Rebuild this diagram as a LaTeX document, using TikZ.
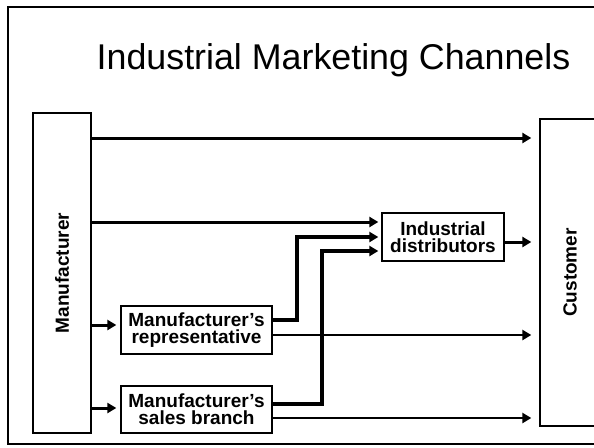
\documentclass[tikz,border=0pt]{standalone}
\usepackage{fontspec}
\setmainfont{Liberation Sans}
\usetikzlibrary{arrows.meta}
\begin{document}
\begin{tikzpicture}[x=1pt,y=-1pt,
  box/.style={draw, line width=1.3pt, inner sep=0pt},
  lbl/.style={font=\bfseries\fontsize{19}{17}\selectfont, align=center, inner sep=0pt},
  tip/.style={-{Triangle[length=9pt,width=10pt]}},
  arr/.style={tip, line width=3pt},
  thin arr/.style={tip, line width=2.6pt},
  elbow/.style={tip, line width=3.6pt, line join=miter}]
\useasboundingbox (0,0) rectangle (594,447);
\clip (0,0) rectangle (594,447);

% slide frame (open to the right edge)
\draw[line width=2pt] (7.5,7) rectangle (610,444);

% title
\node[anchor=base, font=\fontsize{35.8}{40}\selectfont, inner sep=0pt] (title) at (333.5,69) {Industrial Marketing Channels};

% boxes
\node[box, minimum width=58pt, minimum height=320pt] (mfr) at (62,273) {};
\node[lbl, rotate=90] (mfrlabel) at (mfr.center) {Manufacturer};
\node[box, minimum width=60pt, minimum height=307pt] (cust) at (570,272.5) {};
\node[lbl, rotate=90] (custlabel) at (cust.center) {Customer};
\node[box, lbl, minimum width=122pt, minimum height=48pt] (dist) at (443,237) {Industrial\\distributors};
\node[box, lbl, minimum width=151pt, minimum height=48pt] (rep) at (196.5,330) {Manufacturer’s\\representative};
\node[box, lbl, minimum width=151pt, minimum height=47pt] (sales) at (196.5,409.5) {Manufacturer’s\\sales branch};

% connector levels
\coordinate (lvTop) at (0,138);
\coordinate (lvMD) at (0,222);
\coordinate (lvRD) at (0,237);
\coordinate (lvSD) at (0,251);
\coordinate (lvDC) at (0,242);
\coordinate (lvMR) at (0,325);
\coordinate (lvRa) at (0,320);
\coordinate (lvRb) at (0,335);
\coordinate (lvMS) at (0,408);
\coordinate (lvSa) at (0,404);
\coordinate (lvSb) at (0,418);
\coordinate (xR) at (297,0);
\coordinate (xS) at (322,0);

% direct channel
\draw[arr, shorten >=8pt] (mfr.east |- lvTop) -- (cust.west |- lvTop);
% manufacturer to distributors
\draw[arr, shorten >=3pt] (mfr.east |- lvMD) -- (dist.west |- lvMD);
% manufacturer to representative and sales branch
\draw[arr, shorten >=4pt] (mfr.east |- lvMR) -- (rep.west |- lvMR);
\draw[arr, shorten >=4pt] (mfr.east |- lvMS) -- (sales.west |- lvMS);
% representative and sales branch to distributors
\draw[elbow, shorten >=3pt] (rep.east |- lvRa) -- (xR |- lvRa) -- (xR |- lvRD) -- (dist.west |- lvRD);
\draw[elbow, shorten >=3pt] (sales.east |- lvSa) -- (xS |- lvSa) -- (xS |- lvSD) -- (dist.west |- lvSD);
% to customer
\draw[arr, shorten >=8pt] (dist.east |- lvDC) -- (cust.west |- lvDC);
\draw[thin arr, shorten >=8pt] (rep.east |- lvRb) -- (cust.west |- lvRb);
\draw[thin arr, shorten >=8pt] (sales.east |- lvSb) -- (cust.west |- lvSb);
\end{tikzpicture}
\end{document}
